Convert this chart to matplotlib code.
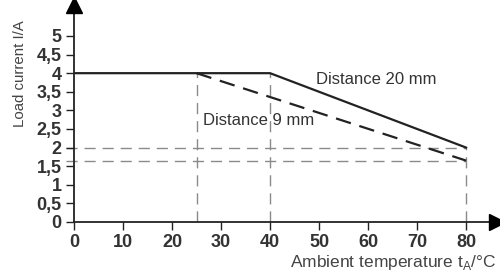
import matplotlib.pyplot as plt
from matplotlib.ticker import FuncFormatter

plt.rcParams['font.family'] = ['Liberation Sans', 'DejaVu Sans']

# derating curves
temp_20mm = [0, 40, 80]
current_20mm = [4, 4, 2]
temp_9mm = [25, 80]
current_9mm = [4, 1.65]

x_ticks = [0, 10, 20, 30, 40, 50, 60, 70, 80]
y_ticks = [0, 0.5, 1, 1.5, 2, 2.5, 3, 3.5, 4, 4.5, 5]

line_col = '#222222'
guide_col = '#8a8a8a'

fig = plt.figure(figsize=(5.0, 2.77), dpi=100)
ax = fig.add_axes([0.148, 0.1986, 0.846, 0.783])
ax.set_xlim(0, 86.3)
ax.set_ylim(0, 5.83)

# helper guide lines (dashed grey)
guide = dict(color=guide_col, linewidth=1.0, dashes=(8, 5), zorder=1)
for yv in [current_20mm[-1], current_9mm[-1]]:
    ax.plot([-1.7, temp_20mm[-1]], [yv, yv], clip_on=False, **guide)
ax.plot([temp_9mm[0], temp_9mm[0]], [0, current_9mm[0]], **guide)
ax.plot([temp_20mm[1], temp_20mm[1]], [0, current_20mm[1]], **guide)
ax.plot([temp_20mm[-1], temp_20mm[-1]], [0, current_20mm[-1]], **guide)

# curves
ax.plot(temp_20mm, current_20mm, color=line_col, linewidth=1.6, zorder=3)
ax.plot(temp_9mm, current_9mm, color=line_col, linewidth=1.6, dashes=(7, 4), zorder=3)

ax.text(49.4, 3.84, 'Distance 20 mm', fontsize=12, color='#333333', va='center')
ax.text(26.3, 2.74, 'Distance 9 mm', fontsize=12, color='#333333', va='center')

# axes styling
for s in ['top', 'right']:
    ax.spines[s].set_visible(False)
for s in ['left', 'bottom']:
    ax.spines[s].set_linewidth(1.3)
    ax.spines[s].set_color(line_col)
ax.set_xticks(x_ticks)
ax.set_yticks(y_ticks)
ax.yaxis.set_major_formatter(FuncFormatter(lambda v, p: f'{v:g}'.replace('.', ',')))
ax.tick_params(axis='both', direction='out', length=5.8, width=1.0, color=line_col,
               labelsize=13, labelcolor='#333333', pad=3)
for lbl in ax.get_xticklabels() + ax.get_yticklabels():
    lbl.set_fontweight('bold')

# arrow heads
ax.plot(1, 0, marker='>', markersize=11, color='black', transform=ax.transAxes,
        clip_on=False, zorder=5)
ax.plot(0, 1, marker='^', markersize=11, color='black', transform=ax.transAxes,
        clip_on=False, zorder=5)

fig.text(0.040, 0.735, 'Load current I/A', rotation=90, fontsize=10.8, color='#444444',
         ha='center', va='center')
fig.text(0.992, 0.035, 'Ambient temperature t$_\\mathregular{A}$/°C', fontsize=12.5,
         color='#444444', ha='right', va='baseline')

fig.savefig('out.png', dpi=100)
